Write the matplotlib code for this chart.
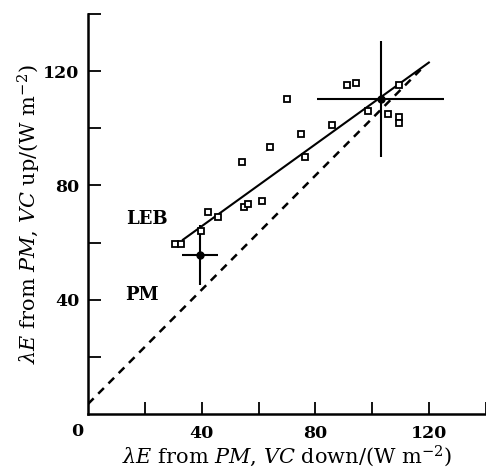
import numpy as np
import matplotlib
matplotlib.use("Agg")
import matplotlib.pyplot as plt

plt.rcParams['font.family'] = ['DejaVu Serif']
plt.rcParams['mathtext.fontset'] = 'dejavuserif'

# open squares: individual comparisons
sq_x = [30.6, 32.7, 39.7, 42.2, 45.7, 54.1, 54.9, 56.3, 61.2, 64.0, 70.0,
        74.9, 76.3, 85.8, 91.1, 94.2, 98.5, 105.5, 109.4, 109.4, 109.4]
sq_y = [59.6, 59.6, 64.1, 70.8, 69.0, 88.3, 72.6, 73.6, 74.7, 93.6, 110.1,
        98.1, 90.1, 101.3, 115.0, 115.7, 105.9, 105.1, 115.0, 104.1, 102.0]

# filled points with error bars
pt_x = [39.4, 103.0]
pt_y = [55.7, 110.1]
pt_xerr = [6.2, 22.3]
pt_yerr = [10.5, 20.3]

# fitted line (LEB) and PM line
fit_slope, fit_icpt = 0.717, 37.05
fit_range = [33.4, 119.9]
pm_slope, pm_icpt = 1.0, 3.5
pm_range = [0.0, 117.0]

fig = plt.figure(figsize=(4.86, 4.75), dpi=100)
ax = fig.add_axes([88/486, 61/475, 398/486, 400/475])

xf = np.array(fit_range)
ax.plot(xf, fit_slope*xf + fit_icpt, color='black', lw=1.5)
xp = np.array(pm_range)
ax.plot(xp, pm_slope*xp + pm_icpt, color='black', lw=1.8, dashes=(3.2, 2.6))

ax.errorbar(pt_x, pt_y, xerr=pt_xerr, yerr=pt_yerr, fmt='o', color='black',
            ms=5, elinewidth=1.5, capsize=0)
ax.plot(sq_x, sq_y, 's', mfc='white', mec='black', ms=4.5, mew=1.3, ls='none')

ax.text(20.7, 68.1, 'LEB', fontsize=13, fontweight='bold', ha='center', va='center')
ax.text(18.9, 41.8, 'PM', fontsize=13, fontweight='bold', ha='center', va='center')
ax.text(-3.9, -6.3, '0', fontsize=12.5, fontweight='bold', ha='center', va='center',
        clip_on=False)

ax.set_xlim(0, 140)
ax.set_ylim(0, 140)
ax.set_xticks([40, 80, 120])
ax.set_yticks([40, 80, 120])
ax.set_xticks([20, 60, 100, 140], minor=True)
ax.set_yticks([20, 60, 100, 140], minor=True)
ax.tick_params(which='both', direction='in', length=9, width=1.3)
ax.tick_params(axis='x', pad=8, labelsize=12.5)
ax.tick_params(axis='y', pad=6, labelsize=12.5)
for lab in ax.get_xticklabels() + ax.get_yticklabels():
    lab.set_fontweight('bold')

for s in ['top', 'right']:
    ax.spines[s].set_visible(False)
for s in ['left', 'bottom']:
    ax.spines[s].set_linewidth(1.8)

ax.set_xlabel(r'$\lambda E$ from $PM$, $VC$ down/(W m$^{-2}$)', fontsize=15, labelpad=1)
ax.set_ylabel(r'$\lambda E$ from $PM$, $VC$ up/(W m$^{-2}$)', fontsize=15, labelpad=0)

fig.savefig('out.png', dpi=100)
